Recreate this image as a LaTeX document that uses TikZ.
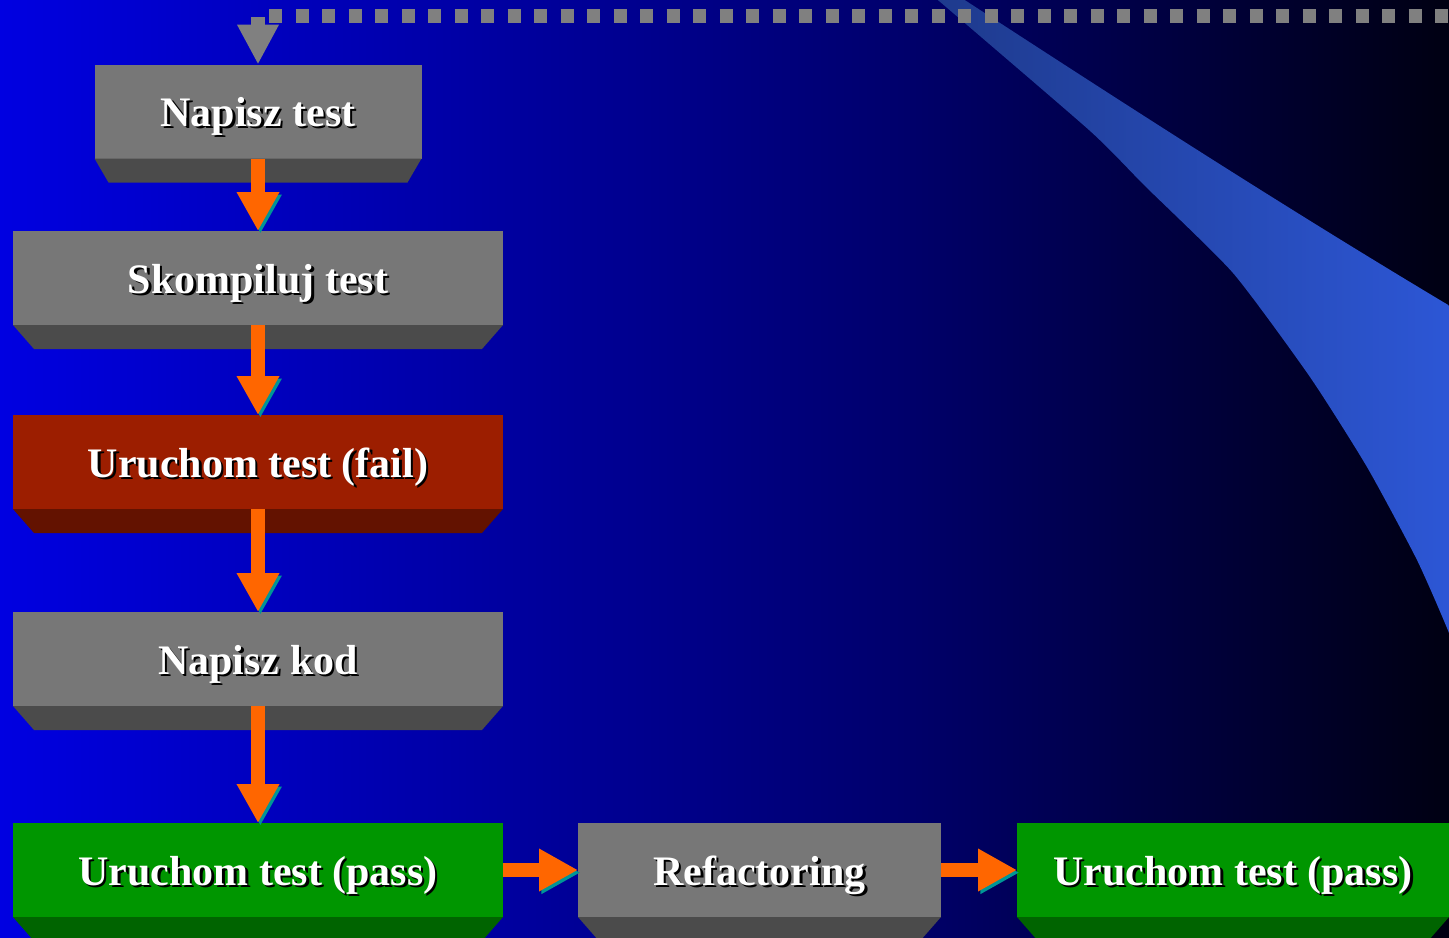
\documentclass[tikz,border=0pt]{standalone}
\usepackage{fontspec}
\setmainfont{Liberation Serif}
\usetikzlibrary{arrows.meta,calc}
\definecolor{facegray}{RGB}{119,119,119}
\definecolor{bevelgray}{RGB}{75,75,75}
\definecolor{facered}{RGB}{156,30,0}
\definecolor{bevelred}{RGB}{99,18,0}
\definecolor{facegreen}{RGB}{0,150,0}
\definecolor{bevelgreen}{RGB}{0,100,0}
\definecolor{flowcol}{RGB}{255,102,0}
\definecolor{flowshadow}{RGB}{0,150,150}
\definecolor{backgray}{RGB}{128,128,128}
\definecolor{bgleft}{RGB}{0,0,225}
\definecolor{bgmid}{RGB}{0,0,108}
\definecolor{bgright}{RGB}{0,0,18}
\definecolor{swooshleft}{RGB}{30,58,140}
\definecolor{swooshright}{RGB}{45,87,215}
\newcommand{\shadowed}[1]{\rlap{\kern1.2pt\raisebox{-1.2pt}{\color{black}#1}}#1}
\tikzset{
  stage/.style={
    fill=#1, inner sep=0pt, outer sep=0pt,
    minimum width=245pt, minimum height=47pt,
    text=white, font=\bfseries\fontsize{21}{25}\selectfont,
    text height=15pt, text depth=0pt
  },
  flow/.style={
    draw=flowcol, line width=7pt,
    -{Triangle[width=20pt,length=19.5pt]},
    preaction={draw=flowshadow, transform canvas={shift={(1.2pt,-1.3pt)}}}
  },
  backdots/.style={draw=backgray, line width=6.7pt, dash pattern=on 6.7pt off 6.55pt},
  backarrow/.style={draw=backgray, line width=7pt, -{Triangle[width=19.5pt,length=20pt]}}
}

\begin{document}
\begin{tikzpicture}[x=0.5pt,y=-0.5pt]
%coordinates in pixels of the slide, y downwards
\newcommand{\bevelbox}[3]{\fill[#2] (#1.south west) -- (#1.south east) -- ($(#1.south east)+(-#3,24)$) -- ($(#1.south west)+(#3,24)$) -- cycle;}
\useasboundingbox (0,0) rectangle (1449,937);
\clip (0,0) rectangle (1449,937);
\shade[left color=bgleft, right color=bgmid] (0,0) rectangle (901,937);
\shade[left color=bgmid, right color=bgright] (900,0) rectangle (1449,937);
\shade[left color=swooshleft, right color=swooshright]
  plot[smooth, tension=0.35] coordinates {(932,-5) (1089,130) (1145,186) (1233,273) (1310,377) (1367,467) (1417,560) (1449,633) (1460,670)}
  -- (1460,312) .. controls (1280,205) and (1100,88) .. (957,-5) -- cycle;

\node[stage=facegray, minimum width=163.5pt] (writetest) at (258,111.5) {\shadowed{Napisz test}};
\node[stage=facegray] (compile) at (258,278) {\shadowed{Skompiluj test}};
\node[stage=facered] (runfail) at (258,462) {\shadowed{Uruchom test (fail)}};
\node[stage=facegray] (writecode) at (258,659) {\shadowed{Napisz kod}};
\node[stage=facegreen] (runpass) at (258,870) {\shadowed{Uruchom test (pass)}};
\node[stage=facegray, minimum width=181.5pt] (refactor) at (759.5,870) {\shadowed{Refactoring}};
\node[stage=facegreen, minimum width=216pt] (runpassb) at (1233,870) {\shadowed{Uruchom test (pass)}};

\bevelbox{writetest}{bevelgray}{14}
\bevelbox{compile}{bevelgray}{21}
\bevelbox{runfail}{bevelred}{21}
\bevelbox{writecode}{bevelgray}{21}
\bevelbox{runpass}{bevelgreen}{21}
\bevelbox{refactor}{bevelgray}{21}
\bevelbox{runpassb}{bevelgreen}{21}

%way back to the start
\coordinate (dotsstart) at (269,16);
\coordinate (dotsend) at (1449,16);
\coordinate (backtop) at (258,17);
\draw[backdots] (dotsstart) -- (dotsend);
\draw[backarrow] (backtop) -- (writetest.north);

\draw[flow] (writetest.south) -- (compile.north);
\draw[flow] (compile.south) -- (runfail.north);
\draw[flow] (runfail.south) -- (writecode.north);
\draw[flow] (writecode.south) -- (runpass.north);
\draw[flow] (runpass.east) -- (refactor.west);
\draw[flow] (refactor.east) -- (runpassb.west);
\end{tikzpicture}
\end{document}
